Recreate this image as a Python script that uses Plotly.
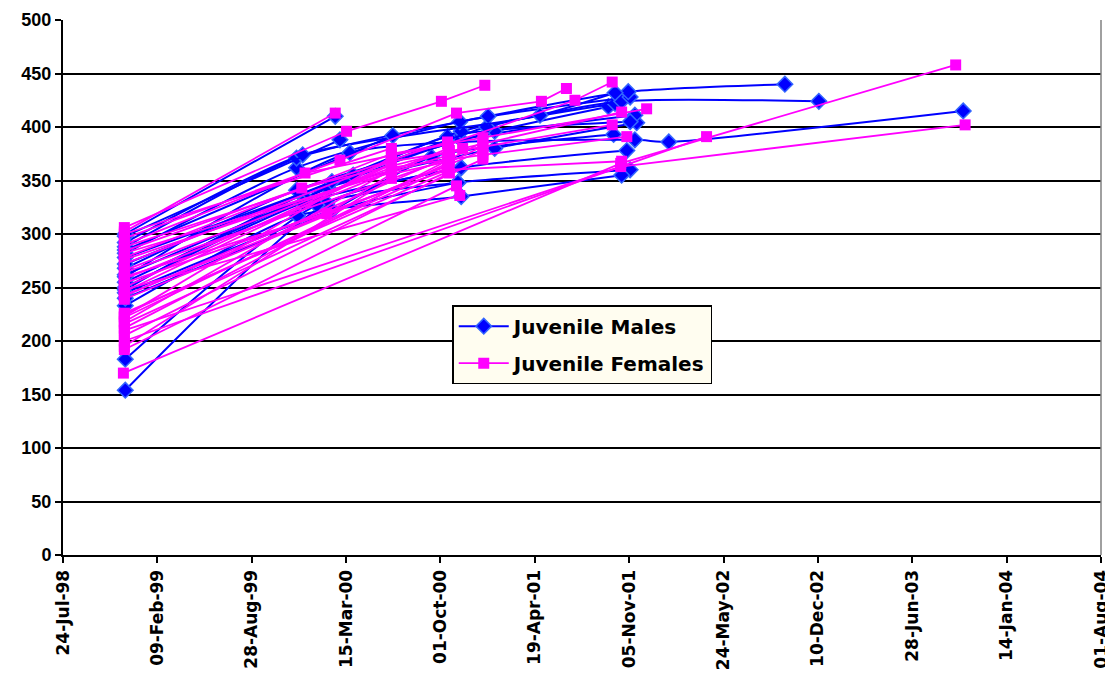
import plotly.graph_objects as go

# ---- axis ticks ----
TICK_DATES = ["1998-07-24", "1999-02-09", "1999-08-28", "2000-03-15", "2000-10-01", "2001-04-19",
              "2001-11-05", "2002-05-24", "2002-12-10", "2003-06-28", "2004-01-14", "2004-08-01"]
TICK_TEXT = ["24-Jul-98", "09-Feb-99", "28-Aug-99", "15-Mar-00", "01-Oct-00", "19-Apr-01",
             "05-Nov-01", "24-May-02", "10-Dec-02", "28-Jun-03", "14-Jan-04", "01-Aug-04"]

# ---- Juvenile males (one list per individual) ----
MALE_DATES = [
    ["1998-12-03", "2000-02-03", "2000-11-14", "2001-10-31"],
    ["1998-12-03", "2000-01-13", "2000-11-07", "2001-11-07"],
    ["1998-12-03", "1999-12-03", "2000-11-14", "2001-10-20"],
    ["1998-12-03", "2000-02-14", "2000-09-12", "2001-10-03"],
    ["1998-12-03", "1999-12-12", "2001-01-24", "2001-11-21"],
    ["1998-12-03", "2000-02-06", "2000-11-14", "2001-11-17"],
    ["1998-12-03", "1999-12-19", "2000-10-16", "2001-11-07"],
    ["1998-12-03", "1999-12-01", "2001-01-24", "2001-09-22"],
    ["1998-12-03", "2000-02-14", "2000-11-14", "2001-10-06"],
    ["1998-12-03", "2000-03-30", "2001-01-07", "2001-10-20", "2002-12-12"],
    ["1998-12-03", "1999-12-01", "2000-11-11", "2001-11-07"],
    ["1998-12-03", "1999-12-01", "2001-01-10", "2001-11-03", "2002-10-01"],
    ["1998-12-03", "1999-12-14", "2001-04-30", "2001-10-06"],
    ["1998-12-03", "2000-03-02"],
    ["1998-12-03", "2000-02-21"],
    ["1998-12-03", "2000-03-23", "2001-11-17", "2002-01-28", "2003-10-14"],
    ["1998-12-03", "1999-12-14", "2000-11-14"],
    ["1998-12-03", "2000-06-22"],
    ["1998-12-03", "2000-02-14", "2000-11-07"],
]
MALE_VALUES = [
    [154, 329, 362, 378],
    [183, 327, 348, 360],
    [233, 317, 335, 355],
    [240, 322, 372, 393],
    [248, 336, 380, 404],
    [255, 343, 388, 411],
    [262, 334, 391, 405],
    [268, 341, 396, 419],
    [272, 349, 396, 422],
    [278, 355, 400, 424, 424],
    [282, 362, 405, 428],
    [288, 371, 410, 433, 440],
    [292, 374, 411, 432],
    [298, 388],
    [300, 410],
    [260, 376, 388, 386, 415],
    [250, 329, 362],
    [285, 392],
    [245, 322, 348],
]

# ---- Juvenile females (one list per individual) ----
FEMALE_DATES = [
    ["1998-12-01", "2000-02-21"],
    ["1998-12-01", "2000-03-16", "2000-10-03", "2001-01-03"],
    ["1998-12-01", "2000-03-02", "2000-11-04", "2001-05-03", "2001-06-25"],
    ["1998-12-01", "1999-12-19", "2000-10-16", "2001-07-13", "2001-09-30"],
    ["1998-12-01", "1999-12-12", "2000-11-17", "2001-10-20"],
    ["1998-12-01", "2000-06-19", "2000-12-30", "2001-12-12"],
    ["1998-12-01", "2000-06-19", "2000-10-18", "2001-09-30"],
    ["1998-12-01", "2000-06-19", "2000-12-30", "2001-10-31"],
    ["1998-12-01", "2000-02-03", "2000-06-19", "2000-10-20"],
    ["1998-12-01", "2000-10-16", "2001-10-20"],
    ["1998-12-01", "2000-11-11"],
    ["1998-12-01", "2000-10-18"],
    ["1998-12-01", "2000-10-18"],
    ["1998-12-01", "2000-10-16"],
    ["1998-12-01", "2000-12-30"],
    ["1998-12-01", "2000-12-30"],
    ["1998-12-01", "2001-10-18", "2003-10-18"],
    ["1998-12-01", "2002-04-18"],
    ["1998-11-29", "2001-10-18", "2003-09-28"],
    ["1998-12-01", "2000-10-20"],
    ["1998-12-01", "2000-06-19"],
    ["1998-12-01", "2000-06-19"],
    ["1998-12-01", "2000-10-16"],
    ["1998-12-01", "2000-10-20"],
    ["1998-12-01", "2000-10-16"],
    ["1998-12-01", "2000-06-19"],
    ["1998-12-01", "2000-12-30"],
    ["1998-12-01", "2000-06-19"],
    ["1998-12-01", "2000-06-19"],
    ["1998-12-01", "2000-12-30"],
    ["1998-12-01", "2000-10-20"],
    ["1998-12-01", "2000-10-18"],
    ["1998-12-01", "2000-06-19"],
    ["1998-12-01", "2000-10-16"],
    ["1998-12-01", "2000-11-04"],
]
FEMALE_VALUES = [
    [302, 413],
    [306, 396, 424, 439],
    [296, 369, 413, 424, 436],
    [290, 357, 384, 425, 442],
    [284, 343, 380, 414],
    [278, 375, 390, 417],
    [272, 368, 376, 402],
    [266, 362, 374, 391],
    [260, 319, 356, 368],
    [254, 360, 368],
    [248, 336],
    [242, 372],
    [243, 364],
    [226, 358],
    [222, 382],
    [216, 370],
    [210, 363, 402],
    [200, 391],
    [170, 366, 458],
    [205, 357],
    [195, 352],
    [300, 380],
    [288, 386],
    [276, 378],
    [264, 370],
    [250, 366],
    [239, 378],
    [223, 372],
    [218, 360],
    [212, 386],
    [282, 374],
    [258, 380],
    [246, 365],
    [225, 362],
    [192, 345],
]

BLUE = "#0000FF"
BLUE_EDGE = "#3366FF"
MAGENTA = "#FF00FF"
FONT = "Liberation Sans, Arial, sans-serif"
WIDE = "DejaVu Sans, Liberation Sans, sans-serif"

fig = go.Figure()

for i, (d, v) in enumerate(zip(MALE_DATES, MALE_VALUES)):
    fig.add_trace(go.Scatter(
        x=d, y=v, mode="lines+markers", name="Juvenile Males",
        legendgroup="males", showlegend=(i == 0),
        line=dict(color=BLUE, width=2, shape="spline", smoothing=0.6),
        marker=dict(symbol="diamond", size=12, color=BLUE,
                    line=dict(color=BLUE_EDGE, width=1.5)),
    ))

for i, (d, v) in enumerate(zip(FEMALE_DATES, FEMALE_VALUES)):
    fig.add_trace(go.Scatter(
        x=d, y=v, mode="lines+markers", name="Juvenile Females",
        legendgroup="females", showlegend=(i == 0),
        line=dict(color=MAGENTA, width=1.8),
        marker=dict(symbol="square", size=11, color=MAGENTA,
                    line=dict(color=MAGENTA, width=0)),
    ))

fig.update_layout(
    width=1105, height=671,
    margin=dict(l=55, r=12, t=12, b=124),
    paper_bgcolor="white", plot_bgcolor="white",
    font=dict(family=FONT, color="black"),
    showlegend=True,
    legend=dict(
        x=0.375, y=0.467, xanchor="left", yanchor="top",
        bgcolor="#FFFDF0", bordercolor="black", borderwidth=1.5,
        font=dict(family=WIDE, size=20, color="black", weight="bold"),
        tracegroupgap=8, itemwidth=50,
    ),
    xaxis=dict(
        type="date", range=["1998-07-24", "2004-08-01"], automargin=False,
        tickvals=TICK_DATES, ticktext=TICK_TEXT, tickangle=-90,
        tickfont=dict(family=WIDE, size=17, color="black", weight="bold"),
        showgrid=False, zeroline=False,
        showline=True, linecolor="black", linewidth=2,
        ticks="outside", ticklen=6, tickwidth=1.5, tickcolor="black",
    ),
    yaxis=dict(
        range=[0, 500], dtick=50, tick0=0, automargin=False,
        tickfont=dict(family=FONT, size=18, color="black", weight="bold"),
        showgrid=True, gridcolor="black", gridwidth=2,
        zeroline=False,
        showline=True, linecolor="black", linewidth=2,
        ticks="outside", ticklen=6, tickwidth=1.5, tickcolor="black",
    ),
    shapes=[dict(type="line", xref="paper", yref="paper", x0=1, x1=1, y0=0, y1=1,
                 line=dict(color="#808080", width=1.5))],
)

fig.write_html("out.html")
